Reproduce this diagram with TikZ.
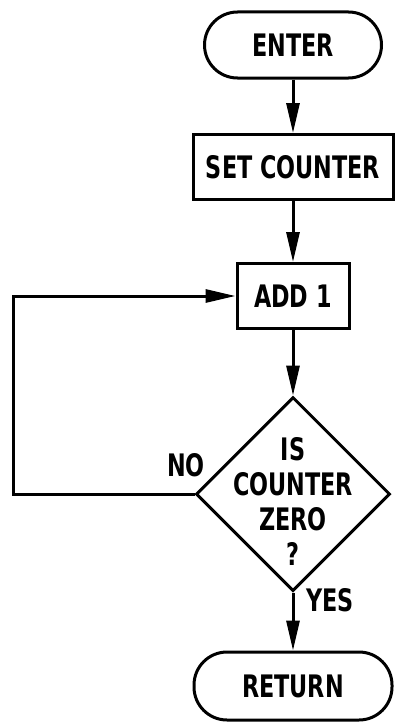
\documentclass[tikz,border=0pt]{standalone}
\usepackage{fontspec}
\setmainfont{DejaVu Sans}[FakeStretch=0.72]
\usetikzlibrary{arrows.meta,shapes.geometric}
\begin{document}
\begin{tikzpicture}[x=1pt,y=-1pt,
  line width=3pt,
  every node/.style={font=\fontsize{31}{35}\selectfont\bfseries},
  term/.style={draw, rectangle, rounded corners=33pt, minimum height=66pt, inner sep=0pt},
  procbox/.style={draw, rectangle, minimum height=65pt, inner sep=0pt},
  decision/.style={draw, diamond, minimum width=194pt, minimum height=194pt, inner sep=0pt},
  lbl/.style={inner sep=0pt},
  arr/.style={-{Triangle[length=30pt,width=13pt]}}
]
\useasboundingbox (0,0) rectangle (397,725);
\node[term, minimum width=177pt] (enter) at (293,45) {ENTER};
\node[procbox, minimum width=200pt] (setc) at (293,167) {SET COUNTER};
\node[procbox, minimum width=112pt] (add) at (293,296) {ADD 1};
\node[decision] (dec) at (293,494) {};
\node[lbl, align=center] (dect) at (293,501) {IS\\COUNTER\\ZERO\\?};
\node[term, minimum width=198pt, minimum height=68pt] (ret) at (293,686) {RETURN};
\node[lbl] (no) at (186,465) {NO};
\node[lbl] (yes) at (330,600) {YES};
\coordinate (fbl) at (13,0);
\draw[arr] (enter) -- (setc);
\draw[arr] (setc) -- (add);
\draw[arr] (add) -- (dec);
\draw[arr] (dec) -- (ret);
\draw[arr] (dec.west) -- (fbl |- dec.west) |- (add.west);
\end{tikzpicture}
\end{document}
